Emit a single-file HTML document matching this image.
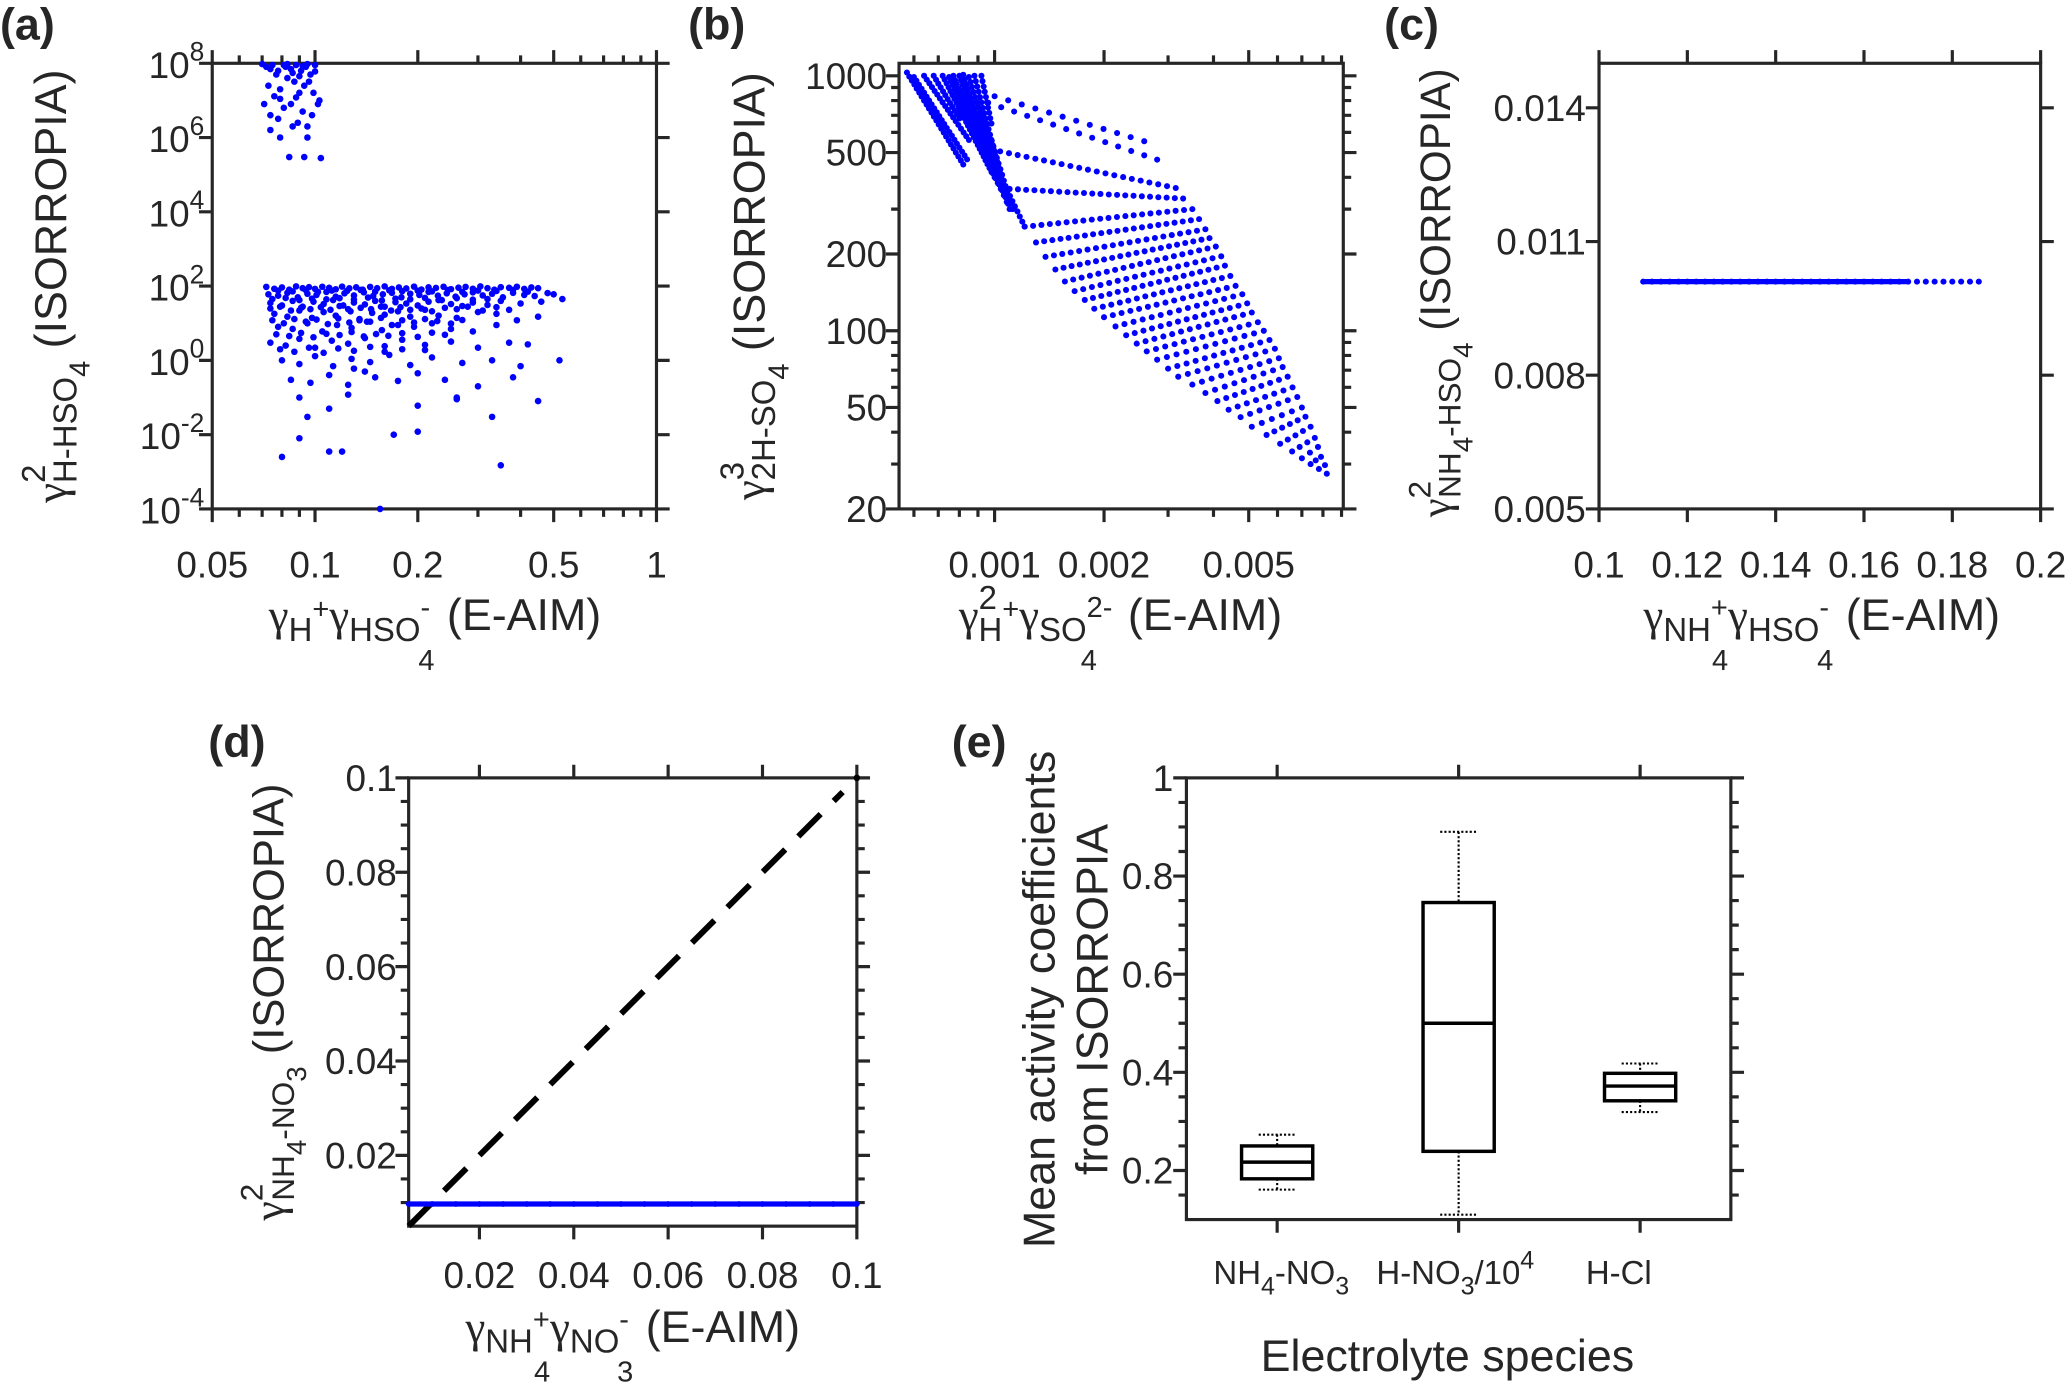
<!DOCTYPE html>
<html><head><meta charset="utf-8"><style>
html,body{margin:0;padding:0;background:#fff;width:2067px;height:1387px;overflow:hidden}
svg{display:block}
text{font-family:"Liberation Sans",Arial,sans-serif;fill:#262626}
.g{font-family:"Liberation Serif",serif}
</style></head><body>
<svg id="chart" xmlns="http://www.w3.org/2000/svg" width="2067" height="1387" viewBox="0 0 1568 1052" preserveAspectRatio="none">
<rect x="0" y="0" width="1568" height="1052" fill="#fff"/>
<g font-weight="bold" font-size="34">
<text x="0" y="30" font-weight="bold">(a)</text>
<text x="522" y="30" font-weight="bold">(b)</text>
<text x="1050" y="30" font-weight="bold">(c)</text>
<text x="158" y="574" font-weight="bold">(d)</text>
<text x="722" y="574" font-weight="bold">(e)</text>
</g>
<!-- axis titles -->
<text x="330" y="478" text-anchor="middle" font-size="34"><tspan class="g">γ</tspan><tspan dy="8" font-size="25">H</tspan><tspan dy="-17" font-size="22">+</tspan><tspan class="g" dy="9">γ</tspan><tspan dy="8" font-size="25">HSO</tspan><tspan dy="-18" font-size="22">-</tspan><tspan dx="-9" dy="40" font-size="22">4</tspan><tspan dy="-30"> (E-AIM)</tspan></text>
<text transform="translate(50,217) rotate(-90)" text-anchor="middle" font-size="34"><tspan class="g">γ</tspan><tspan dy="-16" font-size="25">2</tspan><tspan dx="-14" dy="24" font-size="25">H-HSO</tspan><tspan dy="10" font-size="22">4</tspan><tspan dy="-18"> (ISORROPIA)</tspan></text>
<text x="850" y="478" text-anchor="middle" font-size="34"><tspan class="g">γ</tspan><tspan dy="-16" font-size="25">2</tspan><tspan dx="-14" dy="24" font-size="25">H</tspan><tspan dy="-17" font-size="22">+</tspan><tspan class="g" dy="9">γ</tspan><tspan dy="8" font-size="25">SO</tspan><tspan dy="-18" font-size="22">2-</tspan><tspan dx="-24" dy="40" font-size="22">4</tspan><tspan dx="14" dy="-30"> (E-AIM)</tspan></text>
<text transform="translate(580,217) rotate(-90)" text-anchor="middle" font-size="34"><tspan class="g">γ</tspan><tspan dy="-16" font-size="25">3</tspan><tspan dx="-14" dy="24" font-size="25">2H-SO</tspan><tspan dy="10" font-size="22">4</tspan><tspan dy="-18"> (ISORROPIA)</tspan></text>
<text x="1382" y="478" text-anchor="middle" font-size="34"><tspan class="g">γ</tspan><tspan dy="8" font-size="25">NH</tspan><tspan dy="-18" font-size="22">+</tspan><tspan dx="-12" dy="40" font-size="22">4</tspan><tspan class="g" dy="-30">γ</tspan><tspan dy="8" font-size="25">HSO</tspan><tspan dy="-18" font-size="22">-</tspan><tspan dx="-9" dy="40" font-size="22">4</tspan><tspan dy="-30"> (E-AIM)</tspan></text>
<text transform="translate(1100,222) rotate(-90)" text-anchor="middle" font-size="32"><tspan class="g">γ</tspan><tspan dy="-15" font-size="24">2</tspan><tspan dx="-13" dy="23" font-size="24">NH</tspan><tspan dy="9" font-size="21">4</tspan><tspan dy="-9" font-size="24">-HSO</tspan><tspan dy="9" font-size="21">4</tspan><tspan dy="-17"> (ISORROPIA)</tspan></text>
<text x="480" y="1018" text-anchor="middle" font-size="34"><tspan class="g">γ</tspan><tspan dy="8" font-size="25">NH</tspan><tspan dy="-18" font-size="22">+</tspan><tspan dx="-12" dy="40" font-size="22">4</tspan><tspan class="g" dy="-30">γ</tspan><tspan dy="8" font-size="25">NO</tspan><tspan dy="-18" font-size="22">-</tspan><tspan dx="-9" dy="40" font-size="22">3</tspan><tspan dy="-30"> (E-AIM)</tspan></text>
<text transform="translate(215,760) rotate(-90)" text-anchor="middle" font-size="33"><tspan class="g">γ</tspan><tspan dy="-16" font-size="24">2</tspan><tspan dx="-13" dy="24" font-size="24">NH</tspan><tspan dy="9" font-size="21">4</tspan><tspan dy="-9" font-size="24">-NO</tspan><tspan dy="9" font-size="21">3</tspan><tspan dy="-17"> (ISORROPIA)</tspan></text>
<text transform="translate(800,758) rotate(-90)" text-anchor="middle" font-size="34">Mean activity coefficients</text>
<text transform="translate(840,758) rotate(-90)" text-anchor="middle" font-size="34">from ISORROPIA</text>
<text x="1098" y="1040" text-anchor="middle" font-size="34">Electrolyte species</text>
<text x="972" y="974" text-anchor="middle" font-size="25">NH<tspan dy="8" font-size="19">4</tspan><tspan dy="-8">-NO</tspan><tspan dy="8" font-size="19">3</tspan></text>
<text x="1104" y="974" text-anchor="middle" font-size="25">H-NO<tspan dy="8" font-size="19">3</tspan><tspan dy="-8">/10</tspan><tspan dy="-12" font-size="19">4</tspan></text>
<text x="1228" y="974" text-anchor="middle" font-size="25">H-Cl</text>
</svg>
<script>
// ---------- data ----------
const aTopX=[0.072,0.075,0.078,0.082,0.085,0.088,0.091,0.094,0.097,0.1,0.073,0.076,0.079,0.083,0.087,0.09,0.093,0.096,0.099,0.103,0.071,0.074,0.078,0.081,0.085,0.089,0.092,0.095,0.098,0.102,0.074,0.079,0.086,0.095,0.084,0.093,0.104,0.077,0.09,0.081,0.07,0.095,0.086,0.074,0.083,0.092,0.1,0.088,0.079];
const aTopY=[8e7,9e7,6.3e7,8e7,7e7,9e7,6.3e7,8e7,5e7,9e7,2.5e7,1.3e7,2e7,4e7,3.2e7,1.6e7,2.5e7,3.2e7,1.6e7,1e7,8e6,4e6,3.2e6,6.3e6,8e6,2.5e6,5e6,2e6,4e6,8e6,1.6e6,1e6,2e6,1e6,3e5,3e5,2.8e5,5e7,4.5e7,9e7,9.5e7,9.5e7,5.5e7,7e7,9.5e7,8.5e7,6e7,1.2e7,1.1e7];
const aBandX=[0.072,0.076,0.08,0.084,0.088,0.092,0.096,0.1,0.105,0.11,0.115,0.12,0.126,0.132,0.138,0.145,0.152,0.16,0.168,0.176,0.185,0.195,0.205,0.215,0.226,0.238,0.25,0.263,0.276,0.29,0.305,0.32,0.335,0.35,0.37,0.39,0.41,0.43,0.45,
0.073,0.078,0.083,0.089,0.095,0.101,0.108,0.115,0.122,0.13,0.139,0.148,0.158,0.168,0.179,0.19,0.202,0.215,0.229,0.243,0.258,0.274,0.29,0.31,0.33,0.355,0.38,0.41,0.44,0.5,
0.074,0.08,0.086,0.092,0.099,0.106,0.113,0.121,0.13,0.14,0.15,0.16,0.172,0.185,0.2,0.215,0.23,0.25,0.27,0.29,0.32,0.35,0.4,0.46,
0.076,0.083,0.09,0.098,0.106,0.115,0.125,0.135,0.147,0.16,0.175,0.19,0.21,0.23,0.26,0.3,0.34,0.39,0.45,
0.078,0.086,0.095,0.105,0.116,0.128,0.142,0.157,0.175,0.195,0.22,0.25,0.29,0.34,0.52,
0.074,0.082,0.09,0.1,0.112,0.125,0.14,0.16,0.18,0.21,0.25,0.3,0.37,0.42,
0.08,0.09,0.1,0.113,0.128,0.145,0.165,0.19,0.22,0.27,0.33,0.4,
0.085,0.097,0.11,0.125,0.15,0.175,0.2,0.24,0.3,0.38,
0.09,0.125,0.095,0.11,0.2,0.26,0.45,0.33,0.17,0.2,0.09,0.11,0.12,0.08,0.35,0.155,0.26,0.14,0.13,
0.078,0.086,0.094,0.102,0.112,0.124,0.136,0.15,0.165,0.18,0.2,0.22,0.245,0.27,0.3,0.34,0.38,0.42,0.48,0.53,
0.075,0.082,0.09,0.098,0.108,0.118,0.13,0.143,0.157,0.172,0.19,0.21,0.235,0.26,0.29,0.32,
0.074,0.079,0.085,0.091,0.097,0.104,0.111,0.118,0.127,0.136,0.146,0.156,0.167,0.178,0.19,0.205,0.22,0.24,0.26,0.28,0.31,0.34,0.37,
0.075,0.081,0.087,0.094,0.101,0.109,0.117,0.126,0.135,0.145,0.156,0.168,0.18,0.195,0.21,0.228,0.25,0.27,
0.077,0.084,0.091,0.099,0.108,0.118,0.128,0.139,0.151,0.164,0.18,0.2,0.22,0.24,
0.079,0.087,0.096,0.106,0.117,0.13,0.145,0.16,0.18,0.21];
const aBandY=[95,85,92,80,98,88,94,84,96,90,82,97,87,93,80,95,88,98,84,92,86,97,81,93,89,96,83,91,95,85,98,88,80,94,90,96,84,92,88,
60,55,66,50,62,58,70,52,64,56,68,54,60,66,50,62,58,70,55,64,52,60,68,56,62,50,66,58,54,60,
35,30,40,28,38,33,42,30,36,32,40,28,37,34,30,38,42,33,29,36,31,40,34,38,
18,15,22,14,20,16,24,13,19,17,21,15,23,16,14,20,18,12,15,
8,7,10,6,9,7.5,11,6.5,9,8,10,7,6,9,1,
3,2.5,3.8,2.2,3.4,2.8,4,2.4,3.6,2.6,3.2,2.2,3,2.7,
1,0.8,1.3,0.7,1.1,0.9,1.4,0.75,1.2,0.85,1,0.7,
0.3,0.25,0.4,0.22,0.35,0.28,0.45,0.3,0.2,0.35,
0.1,0.12,0.03,0.05,0.06,0.09,0.08,0.03,0.01,0.012,0.008,0.0035,0.0035,0.0025,0.0015,1e-4,0.1,0.5,0.6,
75,72,78,70,76,74,79,71,77,73,75,72,78,70,76,74,79,71,65,45,
45,48,42,46,44,47,43,49,41,46,44,48,42,47,43,45,
25,28,22,26,24,27,23,29,21,26,24,28,22,27,23,25,21,26,24,28,22,27,23,
12,10,13,11,12.5,9.5,13.5,10.5,12,11,14,9,12,10.5,13,11.5,9.8,12.2,
5,4.5,5.5,4.2,5.2,4.8,5.8,4.4,5.1,4.6,5.4,4.3,5.6,4.9,
2,1.7,2.2,1.6,2.1,1.8,2.3,1.7,2,1.9];

// panel b: grid rows (start/end points on the fan edges) and extra strands
const bRowStartX=[0.00098,0.0011,0.00121,0.0013,0.00138,0.00147,0.00156,0.00166,0.00177,0.00188,0.002,0.00215,0.0023,0.00246,0.00262,0.0028,0.003,0.0032,0.0035,0.0038,0.0041,0.0044,0.00475,0.0051,0.0056,0.0061,0.00658,0.007,0.0074,0.0078,0.0082];
const bRowStartY=[514,360,256,222,195,174,156,143,132,122,113,104,96,89,83,77,71,66,61.5,57,53,49,45.8,42,39,36,33.6,31.6,30,28.7,27.5];
const bRowEndX=[0.00315,0.0033,0.0035,0.00365,0.0038,0.0039,0.00406,0.0042,0.0043,0.00445,0.0046,0.0048,0.00495,0.0051,0.0053,0.0055,0.0057,0.0059,0.00605,0.0062,0.0064,0.0066,0.0068,0.007,0.00716,0.0074,0.0076,0.00775,0.0079,0.0081,0.0082];
const bRowEndY=[363,330,300,274,250,231,214,196,180,164,150,139,128,118,108,100,92,85,78,72,66,60,55,50,46,42,38,35,32,29.7,27.5];
const bRowCount=[22,22,21,21,20,20,19,18,18,17,16,15,15,14,13,12,12,11,10,9,9,8,7,6,6,5,4,3,3,2,1];
const bStrandStartX=[0.001,0.00096,0.000574,0.0006,0.00064,0.00068,0.00072,0.00075,0.00077,0.0008,0.00082,0.00085,0.00088,0.00092,0.00093,0.00095];
const bStrandStartY=[832,784,1030,990,1000,1000,1000,990,1000,1000,1010,990,1000,1000,560,650];
const bStrandEndX=[0.00258,0.0028,0.00082,0.00084,0.00085,0.0008,0.00098,0.001,0.00102,0.00104,0.00106,0.00108,0.0011,0.00098,0.00121,0.00112];
const bStrandEndY=[554,469,449,470,560,680,420,400,380,360,340,320,300,650,256,300];
const bStrandCount=[12,14,24,22,18,12,26,26,26,26,26,26,26,10,18,16];

const cX=[0.110,0.112,0.114,0.116,0.118,0.120,0.122,0.124,0.126,0.128,0.130,0.132,0.134,0.136,0.138,0.140,0.142,0.144,0.146,0.148,0.150,0.152,0.154,0.156,0.158,0.160,0.162,0.164,0.166,0.168,0.170,0.172,0.174,0.176,0.178,0.180,0.182,0.184,0.186];
const cY=0.0101;
const dX=[0.005,0.01,0.015,0.02,0.025,0.03,0.035,0.04,0.045,0.05,0.055,0.06,0.065,0.07,0.075,0.08,0.085,0.09,0.095,0.1];
const dY=0.0097;
const eCategories=['NH4-NO3','H-NO3/10^4','H-Cl'];
const eWhiskerLow=[0.161,0.11,0.319];
const eQ1=[0.183,0.239,0.342];
const eMedian=[0.217,0.5,0.372];
const eQ3=[0.25,0.746,0.398];
const eWhiskerHigh=[0.273,0.89,0.418];

const aXTicks=[0.05,0.1,0.2,0.5,1];const aXTickLabels=['0.05','0.1','0.2','0.5','1'];
const aXMinor=[0.06,0.07,0.08,0.09,0.3,0.4,0.6,0.7,0.8,0.9];
const aYTickExp=[-4,-2,0,2,4,6,8];
const bXTicks=[0.001,0.002,0.005];const bXTickLabels=['0.001','0.002','0.005'];
const bXMinor=[0.0006,0.0007,0.0008,0.0009,0.003,0.004,0.006,0.007,0.008,0.009];
const bYTicks=[20,50,100,200,500,1000];const bYMinor=[30,40,60,70,80,90,300,400,600,700,800,900];
const cXTicks=[0.1,0.12,0.14,0.16,0.18,0.2];const cXTickLabels=['0.1','0.12','0.14','0.16','0.18','0.2'];
const cYTicks=[0.005,0.008,0.011,0.014];const cYTickLabels=['0.005','0.008','0.011','0.014'];
const dXTicks=[0.02,0.04,0.06,0.08,0.1];const dXTickLabels=['0.02','0.04','0.06','0.08','0.1'];
const dYTicks=[0.02,0.04,0.06,0.08,0.1];const dYTickLabels=['0.02','0.04','0.06','0.08','0.1'];
const dYMinor=[0.01,0.015,0.025,0.03,0.035,0.045,0.05,0.055,0.065,0.07,0.075,0.085,0.09,0.095];
const eYTicks=[0.2,0.4,0.6,0.8,1];const eYTickLabels=['0.2','0.4','0.6','0.8','1'];
const eYMinor=[0.15,0.25,0.3,0.35,0.45,0.5,0.55,0.65,0.7,0.75,0.85,0.9,0.95];

// ---------- helpers ----------
const NS='http://www.w3.org/2000/svg';
const svg=document.getElementById('chart');
function E(tag,attrs,parent){const e=document.createElementNS(NS,tag);for(const k in attrs)e.setAttribute(k,attrs[k]);(parent||svg).appendChild(e);return e;}
function lin(d0,d1,p0,p1){return v=>p0+(v-d0)/(d1-d0)*(p1-p0);}
function lg(d0,d1,p0,p1){const a=Math.log10(d0),b=Math.log10(d1);return v=>p0+(Math.log10(v)-a)/(b-a)*(p1-p0);}
const AX='#262626',BLUE='#0000ff',TF=28;

function frame(name,b){
  const g=E('g',{});
  
  
  const r=E('rect',{x:b.x0,y:b.y0,width:b.x1-b.x0,height:b.y1-b.y0,fill:'none',stroke:AX,'stroke-width':2.4},g);
  
  
  return g;
}
function xTick(g,b,px,len){
  const t=E('path',{d:`M${px},${b.y1}v${len}M${px},${b.y0}v${-len}`,stroke:AX,'stroke-width':2.4},g);
  
  
}
function yTick(g,b,py,len){
  const t=E('path',{d:`M${b.x0},${py}h${-len}M${b.x1},${py}h${len}`,stroke:AX,'stroke-width':2.4},g);
  
  
}
function xLabel(g,px,y,txt){
  const t=E('text',{x:px,y:y,'text-anchor':'middle','font-size':TF},g);t.textContent=txt;
  
  
}
function yLabel(g,x,py,txt){
  const t=E('text',{x:x,y:py+10,'text-anchor':'end','font-size':TF},g);t.textContent=txt;
  
  
}
function dot(g,x,y,r,fill,name){
  const c=E('circle',{cx:x.toFixed(1),cy:y.toFixed(1),r:r,fill:fill||BLUE},g);
  
  
}

// ---------- panel a ----------
(function(){
  const b={x0:161,x1:498,y0:48,y1:386};
  const X=lg(0.05,1,b.x0,b.x1),Y=lg(1e-4,1e8,b.y1,b.y0);
  const g=frame('panel-a',b);
  aXTicks.forEach((v,i)=>{xTick(g,b,X(v),10);xLabel(g,X(v),438,aXTickLabels[i]);});
  aXMinor.forEach(v=>xTick(g,b,X(v),6));
  aYTickExp.forEach(e=>{const py=Y(Math.pow(10,e));yTick(g,b,py,10);
    const t=E('text',{x:155,y:py+11,'text-anchor':'end','font-size':TF},g);
    
    
    t.innerHTML='10<tspan dy="-13" font-size="20">'+e+'</tspan>';
  });
  const s=E('g',{});
  
  
  aTopX.forEach((x,i)=>dot(s,X(x),Y(aTopY[i]),2.5,BLUE,'a-point'));
  aBandX.forEach((x,i)=>dot(s,X(x),Y(aBandY[i]),2.5,BLUE,'a-point'));
})();

// ---------- panel b ----------
(function(){
  const b={x0:682,x1:1019,y0:48,y1:386};
  const X=lg(0.000546,0.0091,b.x0,b.x1),Y=lg(20,1120,b.y1,b.y0);
  const g=frame('panel-b',b);
  bXTicks.forEach((v,i)=>{xTick(g,b,X(v),10);xLabel(g,X(v),438,bXTickLabels[i]);});
  bXMinor.forEach(v=>xTick(g,b,X(v),6));
  bYTicks.forEach(v=>{yTick(g,b,Y(v),10);yLabel(g,673,Y(v),String(v));});
  bYMinor.forEach(v=>yTick(g,b,Y(v),6));
  const s=E('g',{});
  
  
  function strand(x0,y0,x1,y1,n){
    for(let k=0;k<n;k++){const t=n===1?0:k/(n-1);
      const lx=Math.log10(x0)+t*(Math.log10(x1)-Math.log10(x0));
      const ly=Math.log10(y0)+t*(Math.log10(y1)-Math.log10(y0));
      dot(s,X(Math.pow(10,lx)),Y(Math.pow(10,ly)),2.3,BLUE,'b-point');}
  }
  bRowStartX.forEach((x,i)=>strand(x,bRowStartY[i],bRowEndX[i],bRowEndY[i],bRowCount[i]));
  bStrandStartX.forEach((x,i)=>strand(x,bStrandStartY[i],bStrandEndX[i],bStrandEndY[i],bStrandCount[i]));
})();

// ---------- panel c ----------
(function(){
  const b={x0:1213,x1:1548,y0:48,y1:386};
  const X=lin(0.1,0.2,b.x0,b.x1),Y=lin(0.005,0.015,b.y1,b.y0);
  const g=frame('panel-c',b);
  cXTicks.forEach((v,i)=>{xTick(g,b,X(v),10);xLabel(g,X(v),438,cXTickLabels[i]);});
  cYTicks.forEach((v,i)=>{yTick(g,b,Y(v),10);yLabel(g,1203,Y(v),cYTickLabels[i]);});
  const s=E('g',{});
  
  
  const ln=E('line',{x1:X(cX[0]),y1:Y(cY),x2:X(cX[30]),y2:Y(cY),stroke:BLUE,'stroke-width':4},s);
  
  
  cX.forEach(x=>dot(s,X(x),Y(cY),2.3,BLUE,'c-point'));
})();

// ---------- panel d ----------
(function(){
  const b={x0:310,x1:650,y0:590,y1:930};
  const X=lin(0.005,0.1,b.x0,b.x1),Y=lin(0.005,0.1,b.y1,b.y0);
  const g=frame('panel-d',b);
  dXTicks.forEach((v,i)=>{xTick(g,b,X(v),10);xLabel(g,X(v),977,dXTickLabels[i]);});
  dYTicks.forEach((v,i)=>{yTick(g,b,Y(v),10);yLabel(g,301,Y(v),dYTickLabels[i]);});
  dYMinor.forEach(v=>yTick(g,b,Y(v),6));
  const one=E('line',{x1:X(0.005),y1:Y(0.005),x2:X(0.097),y2:Y(0.097),stroke:'#000','stroke-width':4.5,'stroke-dasharray':'24 14'});
  
  
  dot(svg,X(0.1),Y(0.1),2.5,'#000','one-to-one-end');
  const s=E('g',{});
  
  
  const ln=E('line',{x1:X(dX[0]),y1:Y(dY),x2:X(dX[dX.length-1]),y2:Y(dY),stroke:BLUE,'stroke-width':4},s);
  
  
  dX.forEach(x=>dot(s,X(x),Y(dY),2.2,BLUE,'d-point'));
})();

// ---------- panel e ----------
(function(){
  const b={x0:900,x1:1313,y0:590,y1:925};
  const X=lin(0.5,3.5,b.x0,b.x1),Y=lin(0.1,1,b.y1,b.y0);
  const g=frame('panel-e',b);
  eCategories.forEach((c,i)=>xTick(g,b,X(i+1),10));
  eYTicks.forEach((v,i)=>{yTick(g,b,Y(v),10);yLabel(g,890,Y(v),eYTickLabels[i]);});
  eYMinor.forEach(v=>yTick(g,b,Y(v),6));
  const bw=54,cw=28;
  eCategories.forEach((c,i)=>{
    const cx=X(i+1);
    const bg=E('g',{});
    
    
    const w=E('path',{d:`M${cx},${Y(eWhiskerHigh[i])}V${Y(eQ3[i])}M${cx},${Y(eQ1[i])}V${Y(eWhiskerLow[i])}M${cx-cw/2},${Y(eWhiskerHigh[i])}h${cw}M${cx-cw/2},${Y(eWhiskerLow[i])}h${cw}`,stroke:'#000','stroke-width':1.6,'stroke-dasharray':'1.6 1.6',fill:'none'},bg);
    
    
    const r=E('rect',{x:cx-bw/2,y:Y(eQ3[i]),width:bw,height:Y(eQ1[i])-Y(eQ3[i]),fill:'none',stroke:'#000','stroke-width':2.6},bg);
    
    
    const m=E('line',{x1:cx-bw/2,x2:cx+bw/2,y1:Y(eMedian[i]),y2:Y(eMedian[i]),stroke:'#000','stroke-width':2.6},bg);
    
    
  });
})();
</script>
</body></html>
